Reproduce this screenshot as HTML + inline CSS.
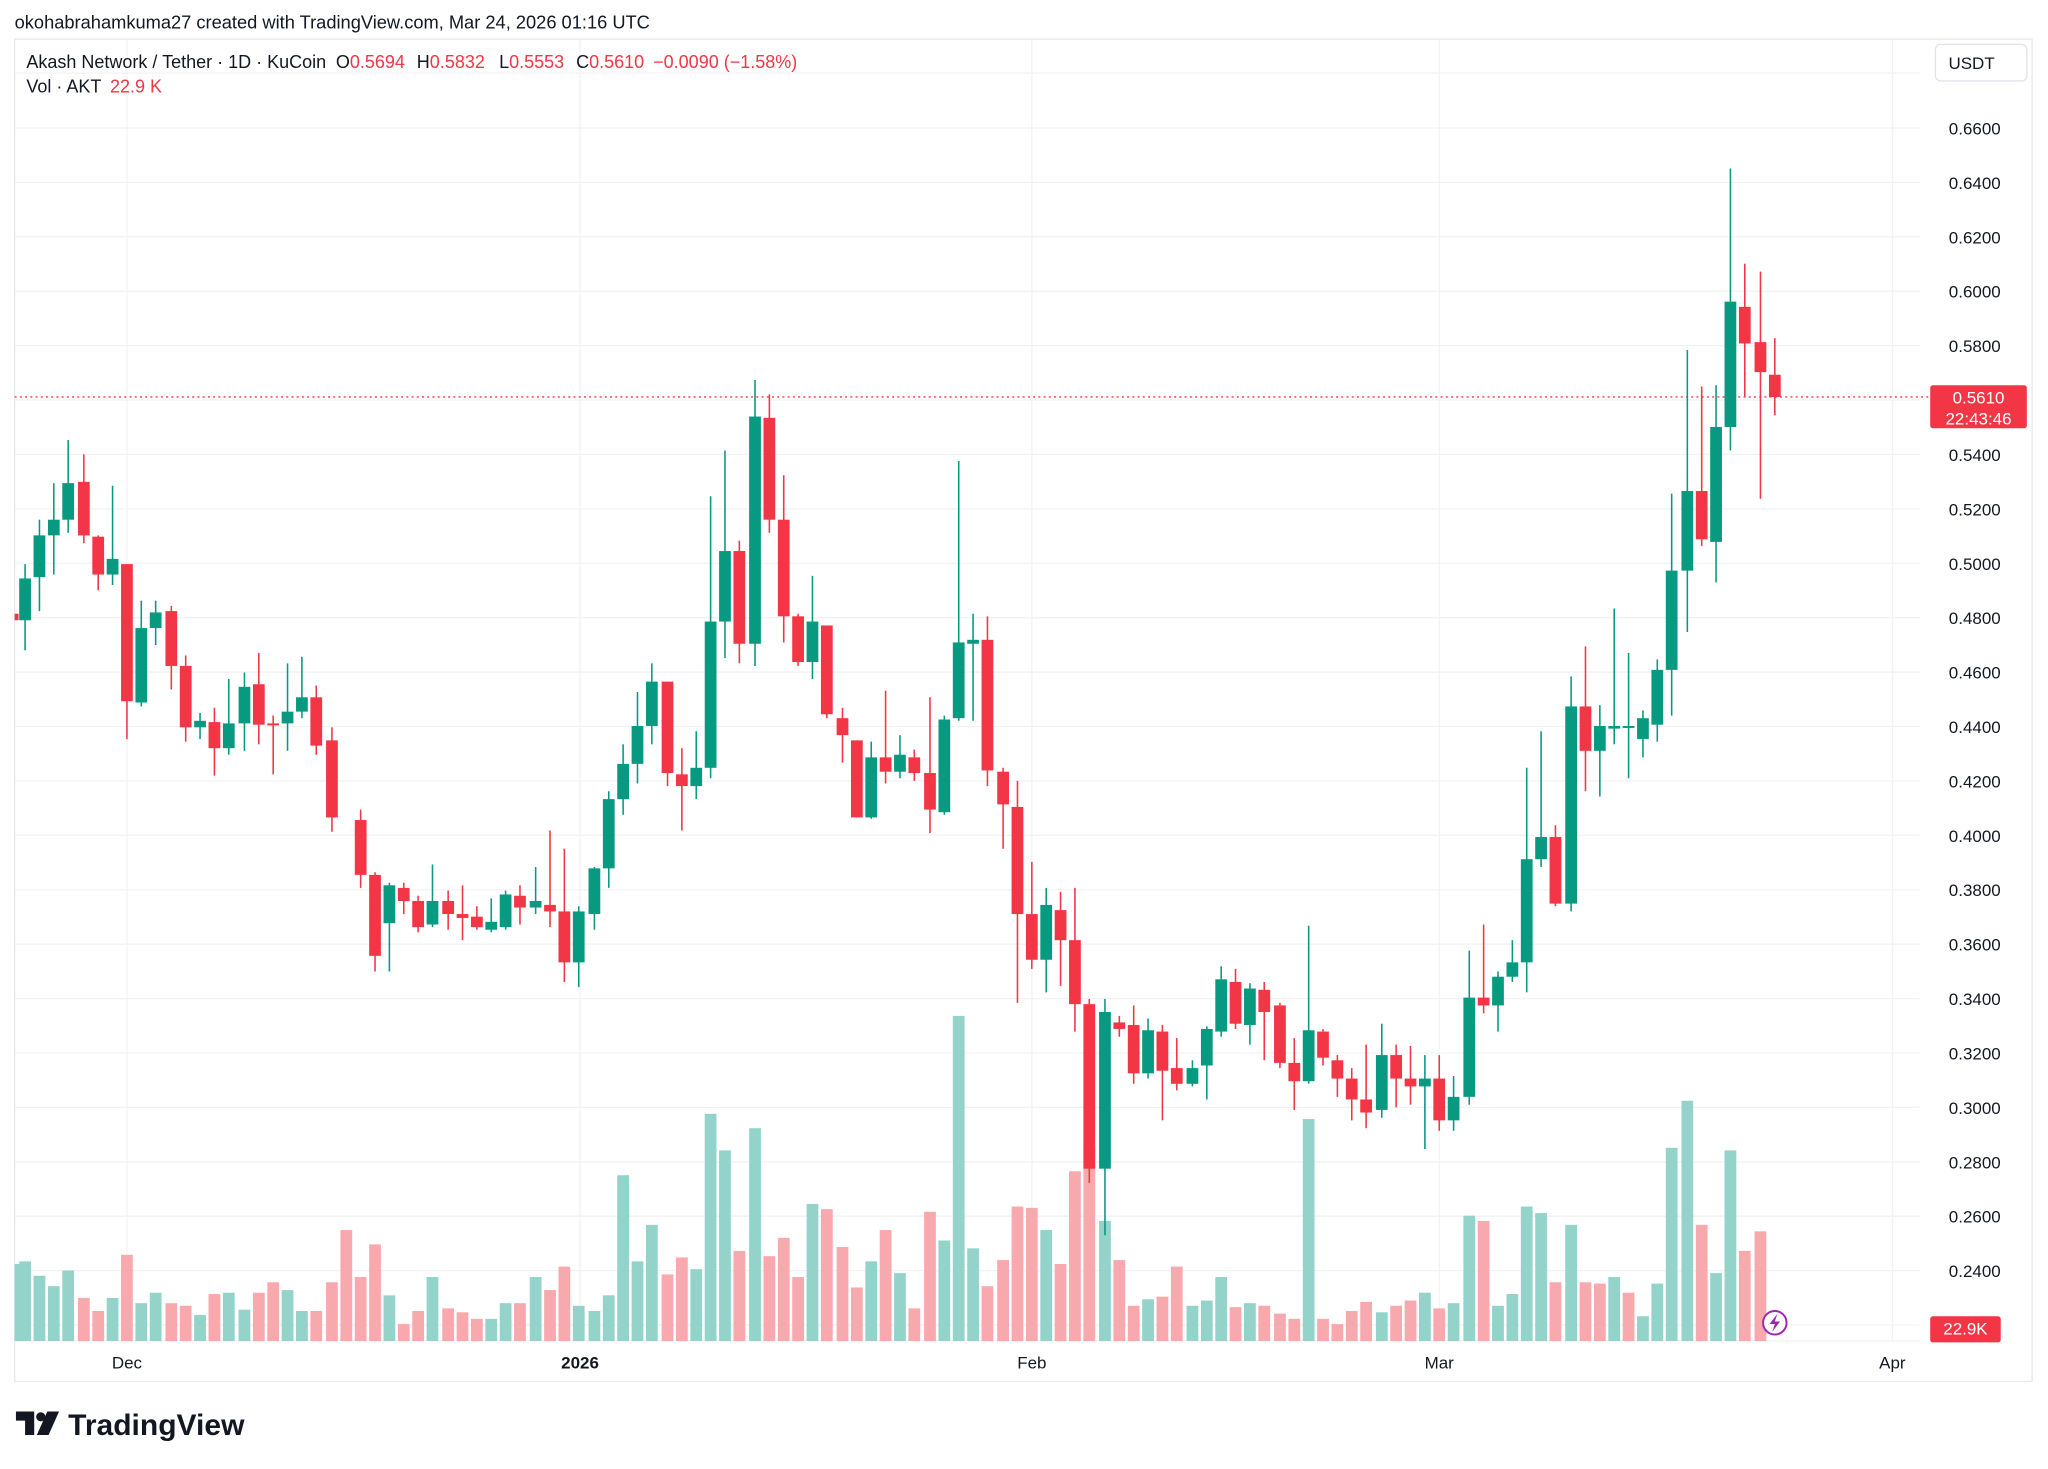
<!DOCTYPE html>
<html><head><meta charset="utf-8"><style>
html,body{margin:0;padding:0;background:#fff;}
svg{display:block;}
text{font-family:"Liberation Sans",sans-serif;}
</style></head><body>
<svg id="s" width="2048" height="1469" viewBox="0 0 1568 1125" xmlns="http://www.w3.org/2000/svg">
<rect width="1568" height="1125" fill="#fff"/>
<g id="grid"></g>
<rect x="11" y="30" width="1545" height="1028" fill="none" stroke="#e8e8ea" stroke-width="1"/>
<line x1="11" y1="1027" x2="1470" y2="1027" stroke="#f0f0f2"/>
<line x1="11" y1="304" x2="1478" y2="304" stroke="#f23645" stroke-width="1" stroke-dasharray="1.5,2.5"/>
<g id="vol"></g>
<g id="cdl"></g>
<g id="axis"></g>
<text x="11" y="22" font-size="14" fill="#131722">okohabrahamkuma27 created with TradingView.com, Mar 24, 2026 01:16 UTC</text>
<text y="52" font-size="13.8" fill="#131722"><tspan x="20">Akash Network / Tether · 1D · KuCoin</tspan><tspan x="257">O</tspan><tspan fill="#f23645">0.5694</tspan><tspan x="319">H</tspan><tspan fill="#f23645">0.5832</tspan><tspan x="382">L</tspan><tspan fill="#f23645">0.5553</tspan><tspan x="441">C</tspan><tspan fill="#f23645">0.5610</tspan><tspan x="500" fill="#f23645">−0.0090 (−1.58%)</tspan></text>
<text y="71" font-size="13.8" fill="#131722"><tspan x="20">Vol · AKT</tspan><tspan x="84" fill="#f23645">22.9 K</tspan></text>
<rect x="1482" y="34" width="70" height="28" rx="4" fill="#fff" stroke="#e0e3eb"/>
<text x="1492" y="53" font-size="13" fill="#131722">USDT</text>
<rect x="1478" y="295" width="74" height="33" rx="2" fill="#f23645"/>
<text x="1515" y="309" font-size="13" fill="#fff" text-anchor="middle">0.5610</text>
<text x="1515" y="325" font-size="13" fill="#fff" text-anchor="middle">22:43:46</text>
<rect x="1478" y="1008" width="54" height="20" rx="2" fill="#f23645"/>
<text x="1505" y="1022" font-size="13" fill="#fff" text-anchor="middle">22.9K</text>
<circle cx="1359" cy="1013" r="9" fill="#fff" stroke="#9c27b0" stroke-width="1.5"/>
<path d="M1361 1006 L1355 1014 L1359 1014 L1357 1020 L1363 1012 L1359 1012 Z" fill="#9c27b0"/>
<g transform="translate(12,1081)">
<path d="M0 0 H14 V18 H7 V7 H0 Z" fill="#131722"/>
<circle cx="19" cy="4" r="3.5" fill="#131722"/>
<path d="M24 0 H33 L25 18 H16 Z" fill="#131722"/>
</g>
<text x="52" y="1099" font-size="23" font-weight="bold" fill="#131722">TradingView</text>
</svg>
<script>
const NS="http://www.w3.org/2000/svg";
function el(p,t,a){const e=document.createElementNS(NS,t);for(const k in a)e.setAttribute(k,a[k]);p.appendChild(e);return e;}
const grid=document.getElementById('grid'),axis=document.getElementById('axis');
function py(p){return 98+(0.66-p)/0.02*41.67;}
for(let i=0;i<=30;i++){const p=0.66-i*0.02;const y=py(p);if(y>1025)break;
 el(grid,'line',{x1:11,y1:y,x2:1470,y2:y,stroke:'#f2f2f4'});
 if(p>0.235){const t=el(axis,'text',{x:1532,y:y+5,'font-size':13,fill:'#131722','text-anchor':'end'});t.textContent=p.toFixed(4);}
}
el(grid,'line',{x1:11,y1:56,x2:1470,y2:56,stroke:'#f2f2f4'});
[[97,'Dec',0],[444,'2026',1],[790,'Feb',0],[1102,'Mar',0],[1449,'Apr',0]].forEach(d=>{
 el(grid,'line',{x1:d[0],y1:30,x2:d[0],y2:1027,stroke:'#f2f2f4'});
 const t=el(axis,'text',{x:d[0],y:1048,'font-size':13,fill:'#131722','text-anchor':'middle','font-weight':d[2]?'bold':'normal'});t.textContent=d[1];
});
const C=[[19,475,443,432,498],[30,442,410,398,468],[41,410,398,370,440],[52,398,370,337,408],[64,369,410,348,416],[75,411,440,410,452],[86,440,428,372,448],[97,432,537,432,566],[108,538,481,460,541],[119,481,469,460,494],[131,468,510,464,528],[142,510,557,502,568],[153,557,552,546,566],[164,553,573,542,594],[175,573,554,520,578],[187,554,526,515,575],[198,524,555,500,570],[209,554,555,548,593],[220,554,545,508,575],[231,545,534,503,550],[242,534,571,525,578],[254,567,626,557,637],[276,628,670,620,680],[287,670,732,668,744],[298,707,678,676,744],[309,680,690,676,700],[320,690,710,686,714],[331,708,690,662,710],[343,690,700,682,712],[354,700,703,678,720],[365,702,710,694,712],[376,712,706,688,714],[387,710,685,682,712],[398,686,695,678,708],[410,695,690,664,700],[421,693,698,636,710],[432,698,737,650,752],[443,737,698,694,756],[455,700,665,664,712],[466,665,612,606,680],[477,612,585,570,624],[488,585,556,530,600],[499,556,522,508,570],[511,522,592,522,602],[522,593,602,573,636],[533,602,588,560,612],[544,588,476,380,596],[555,476,422,345,504],[566,422,493,414,508],[578,493,319,291,510],[589,320,398,302,408],[600,398,472,364,492],[611,472,507,470,510],[622,507,476,441,520],[633,479,547,479,550],[645,550,563,542,584],[656,567,626,567,626],[667,626,580,568,627],[678,580,591,529,600],[689,591,578,563,596],[700,580,592,574,598],[712,592,620,534,638],[723,622,551,548,624],[734,550,492,353,552],[745,493,490,470,552],[756,490,590,472,602],[768,591,616,588,650],[779,618,700,598,768],[790,700,735,660,742],[801,735,693,680,760],[812,697,720,683,755],[823,720,769,680,790],[834,769,895,765,906],[846,895,775,765,946],[857,783,788,778,794],[868,785,822,770,830],[879,822,789,780,826],[890,790,820,785,858],[901,818,830,795,835],[913,830,818,812,832],[924,816,788,786,842],[935,790,750,740,794],[946,752,784,742,788],[957,785,757,753,800],[968,758,775,752,812],[980,770,814,768,818],[991,814,828,795,850],[1002,828,789,709,830],[1013,790,810,788,816],[1024,812,826,808,840],[1035,826,842,818,858],[1046,842,852,800,864],[1058,850,808,784,856],[1069,808,826,800,848],[1080,826,832,801,846],[1091,832,826,808,880],[1102,826,858,808,866],[1113,858,840,824,866],[1125,840,764,728,846],[1136,764,770,708,776],[1147,770,748,744,790],[1158,748,737,720,752],[1169,737,658,588,760],[1180,658,641,560,664],[1191,641,692,632,694],[1203,692,541,518,698],[1214,541,575,495,606],[1225,575,556,540,610],[1236,558,556,466,570],[1247,556,556,500,596],[1258,566,550,544,580],[1269,555,513,505,568],[1280,513,437,378,548],[1292,437,376,268,484],[1303,376,413,296,418],[1314,415,327,295,446],[1325,327,231,129,345],[1336,235,263,202,304],[1348,262,285,208,382],[1359,287,304,259,318]];
const cd=document.getElementById('cdl');
el(cd,'rect',{x:11,y:470,width:3,height:5,fill:'#f23645'});
C.forEach(c=>{const[x,o,cl,h,l]=c;const up=cl<=o;const col=up?'#089981':'#f23645';
 el(cd,'line',{x1:x,y1:h,x2:x,y2:l,stroke:col,'stroke-width':1.2});
 const t=Math.min(o,cl),b=Math.max(o,cl);
 el(cd,'rect',{x:x-4.5,y:t,width:9,height:Math.max(b-t,1.5),fill:col});
});
const V=[[11,968,1],[19,966,1],[30,977,1],[41,985,1],[52,973,1],[64,994,0],[75,1004,0],[86,994,1],[97,961,0],[108,998,1],[119,990,1],[131,998,0],[142,1000,0],[153,1007,1],[164,991,0],[175,990,1],[187,1003,1],[198,990,0],[209,982,0],[220,988,1],[231,1004,1],[242,1004,0],[254,982,0],[265,942,0],[276,978,0],[287,953,0],[298,992,1],[309,1014,0],[320,1004,0],[331,978,1],[343,1002,0],[354,1005,0],[365,1010,0],[376,1010,1],[387,998,1],[398,998,0],[410,978,1],[421,988,0],[432,970,0],[443,1000,1],[455,1004,1],[466,992,1],[477,900,1],[488,966,1],[499,938,1],[511,976,0],[522,963,0],[533,972,1],[544,853,1],[555,881,1],[566,958,0],[578,864,1],[589,962,0],[600,948,0],[611,978,0],[622,922,1],[633,926,0],[645,955,0],[656,986,0],[667,966,1],[678,942,0],[689,975,1],[700,1002,0],[712,928,0],[723,950,1],[734,778,1],[745,956,1],[756,985,0],[768,965,0],[779,924,0],[790,925,0],[801,942,1],[812,968,0],[823,897,0],[834,878,0],[846,935,1],[857,965,0],[868,1000,0],[879,995,1],[890,993,0],[901,970,0],[913,1000,1],[924,996,1],[935,978,1],[946,1001,0],[957,998,1],[968,1000,0],[980,1006,0],[991,1010,0],[1002,857,1],[1013,1010,0],[1024,1014,0],[1035,1004,0],[1046,997,0],[1058,1005,1],[1069,1000,0],[1080,996,0],[1091,990,1],[1102,1002,0],[1113,998,1],[1125,931,1],[1136,935,0],[1147,1000,1],[1158,991,1],[1169,924,1],[1180,929,1],[1191,982,0],[1203,938,1],[1214,982,0],[1225,983,0],[1236,978,1],[1247,990,0],[1258,1008,1],[1269,983,1],[1280,879,1],[1292,843,1],[1303,938,0],[1314,975,1],[1325,881,1],[1336,958,0],[1348,943,0]];
const vg=document.getElementById('vol');
V.forEach(v=>{const x0=Math.max(11,v[0]-4.5);const w=v[0]+4.5-x0;
 el(vg,'rect',{x:x0,y:v[1],width:w,height:1027-v[1],fill:v[2]?'#93d3c9':'#f7a9ad'});});
</script>
</body></html>
